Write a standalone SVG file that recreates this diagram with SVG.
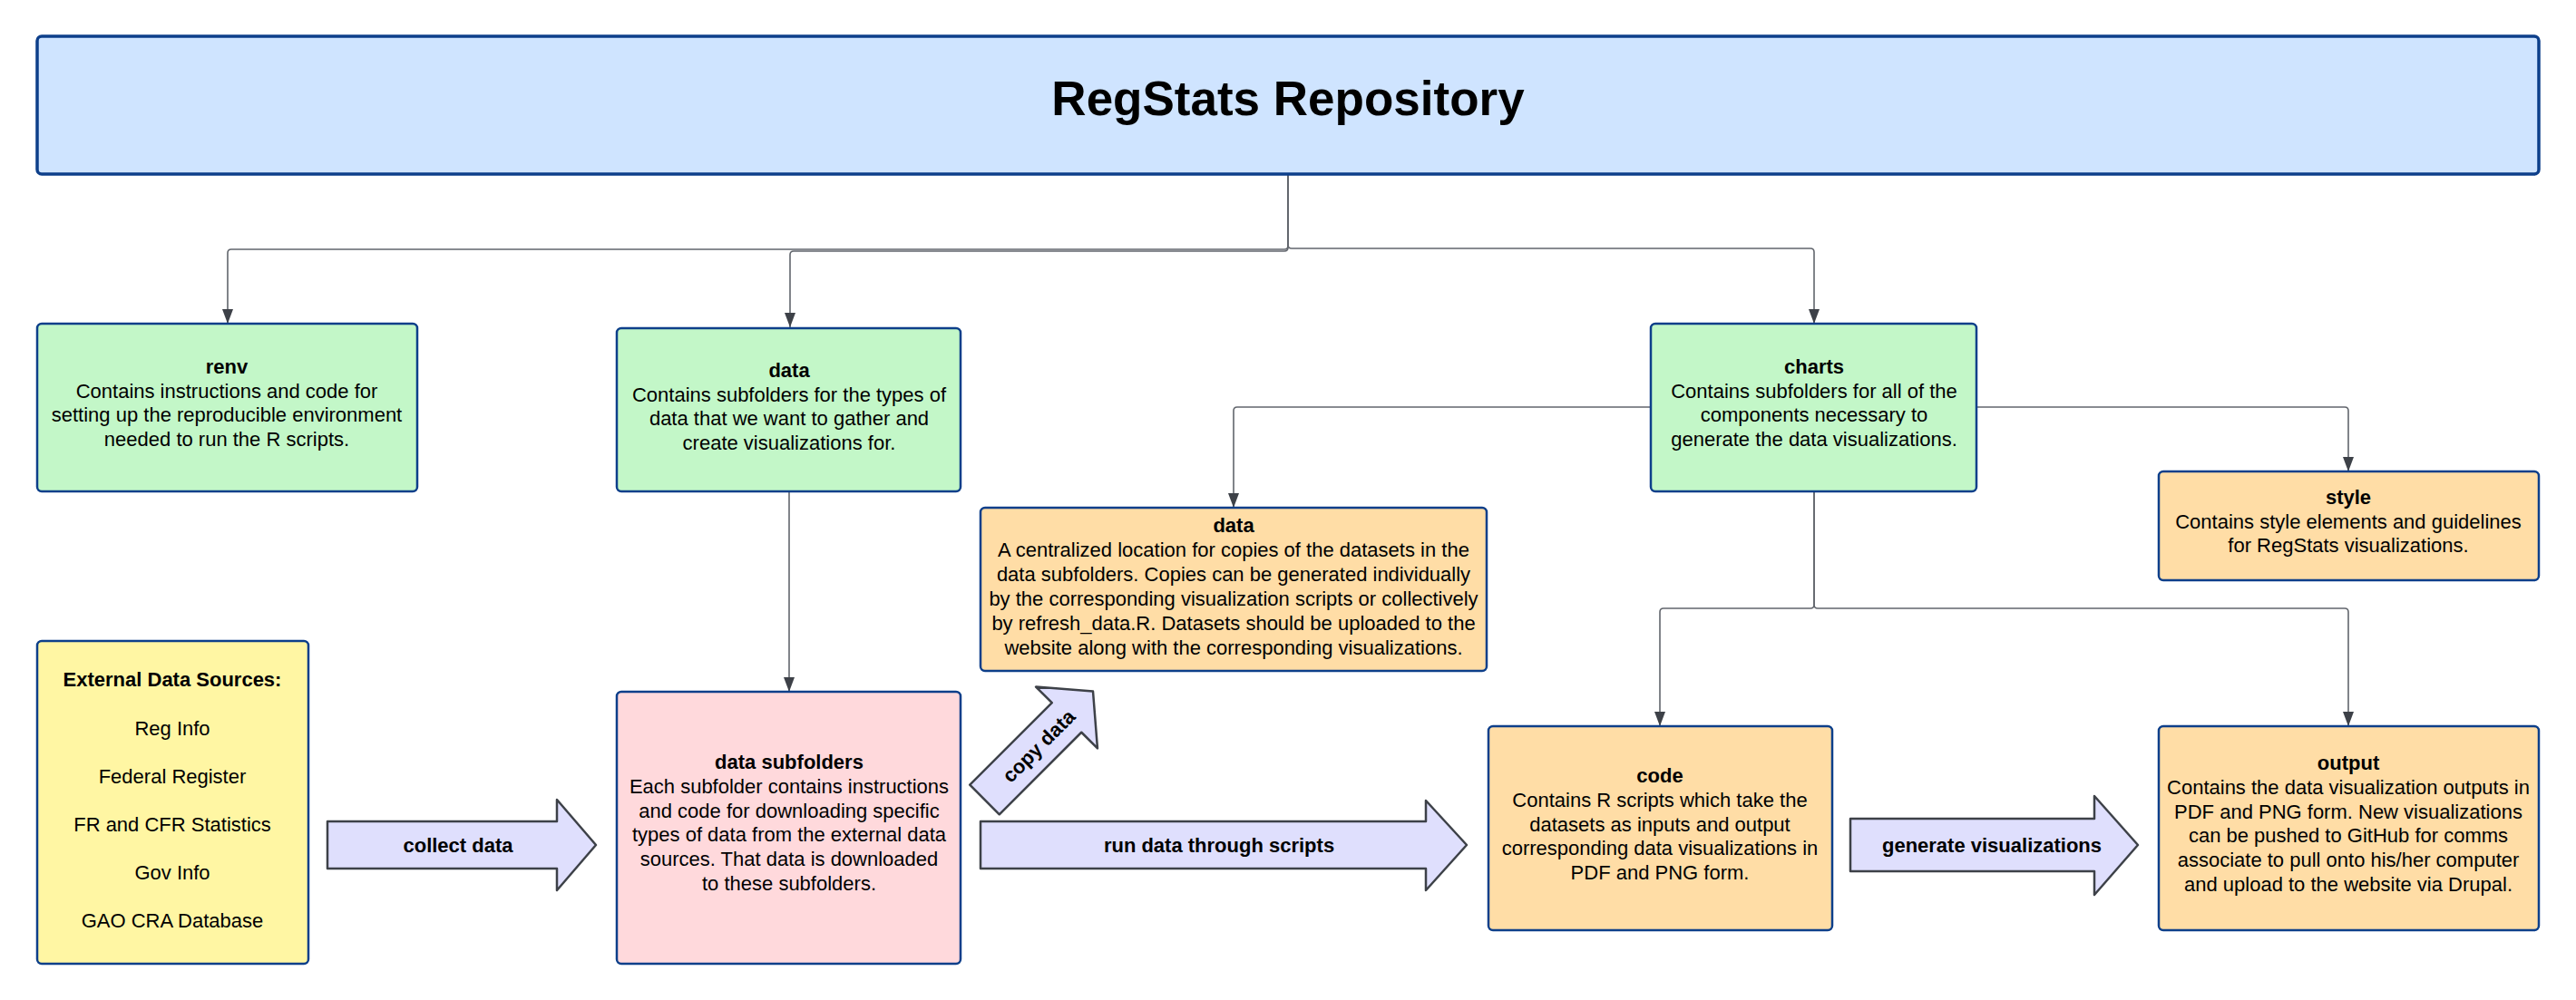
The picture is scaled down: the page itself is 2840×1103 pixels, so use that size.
<svg xmlns="http://www.w3.org/2000/svg" width="2840" height="1103" viewBox="0 0 2840 1103">
<style>
.box{stroke:#0d3f8a;stroke-width:2.5}
.title{fill:#cfe4ff;stroke:#0d3f8a;stroke-width:3.5}
.green{fill:#c3f7c8}
.orange{fill:#ffdda6}
.pink{fill:#ffd9dc}
.yellow{fill:#fff6a3}
.arrow{fill:#dfdffd;stroke:#3d4148;stroke-width:2.5;stroke-linejoin:round}
.conn{fill:none;stroke:#62666d;stroke-width:1.6}
text{font-family:"Liberation Sans",Arial,sans-serif;font-size:22px;fill:#000;text-anchor:middle}
.b{font-weight:bold}
</style>
<defs>
<marker id="ah" markerUnits="userSpaceOnUse" markerWidth="16" markerHeight="12" refX="16" refY="6" orient="auto">
<path d="M0,0 L16,6 L0,12 z" fill="#3d4148"/>
</marker>
</defs>
<rect width="2840" height="1103" fill="#ffffff"/>

<g id="connectors">
<path class="conn" d="M1420,192 V271 Q1420,275 1416,275 H255 Q251,275 251,279 V357" marker-end="url(#ah)"/>
<path class="conn" d="M1420,192 V273 Q1420,277 1416,277 H875 Q871,277 871,281 V361" marker-end="url(#ah)"/>
<path class="conn" d="M1420,192 V270 Q1420,274 1424,274 H1996 Q2000,274 2000,278 V357" marker-end="url(#ah)"/>
<path class="conn" d="M1820,449 H1364 Q1360,449 1360,453 V560" marker-end="url(#ah)"/>
<path class="conn" d="M2179,449 H2585 Q2589,449 2589,453 V520" marker-end="url(#ah)"/>
<path class="conn" d="M2000,542 V667 Q2000,671 1996,671 H1834 Q1830,671 1830,675 V801" marker-end="url(#ah)"/>
<path class="conn" d="M2000,542 V667 Q2000,671 2004,671 H2585 Q2589,671 2589,675 V801" marker-end="url(#ah)"/>
<path class="conn" d="M870,542 V763" marker-end="url(#ah)"/>
</g>

<g id="title">
<rect class="title" x="41" y="40" width="2758" height="152" rx="5"/>
<text x="1420" y="127" class="b" style="font-size:53px">RegStats Repository</text>
</g>

<g id="renv">
<rect class="box green" x="41" y="357" width="419" height="185" rx="5"/>
<text x="250" y="412"><tspan class="b">renv</tspan><tspan x="250" dy="26.7">Contains instructions and code for</tspan><tspan x="250" dy="26.7">setting up the reproducible environment</tspan><tspan x="250" dy="26.7">needed to run the R scripts.</tspan></text>
</g>

<g id="data">
<rect class="box green" x="680" y="362" width="379" height="180" rx="5"/>
<text x="870" y="416"><tspan class="b">data</tspan><tspan x="870" dy="26.7">Contains subfolders for the types of</tspan><tspan x="870" dy="26.7">data that we want to gather and</tspan><tspan x="870" dy="26.7">create visualizations for.</tspan></text>
</g>

<g id="charts">
<rect class="box green" x="1820" y="357" width="359" height="185" rx="5"/>
<text x="2000" y="412"><tspan class="b">charts</tspan><tspan x="2000" dy="26.7">Contains subfolders for all of the</tspan><tspan x="2000" dy="26.7">components necessary to</tspan><tspan x="2000" dy="26.7">generate the data visualizations.</tspan></text>
</g>

<g id="style">
<rect class="box orange" x="2380" y="520" width="419" height="120" rx="5"/>
<text x="2589" y="556"><tspan class="b">style</tspan><tspan x="2589" dy="26.7">Contains style elements and guidelines</tspan><tspan x="2589" dy="26.7">for RegStats visualizations.</tspan></text>
</g>

<g id="data-copies">
<rect class="box orange" x="1081" y="560" width="558" height="180" rx="5"/>
<text x="1360" y="587"><tspan class="b">data</tspan><tspan x="1360" dy="26.9">A centralized location for copies of the datasets in the</tspan><tspan x="1360" dy="26.9">data subfolders. Copies can be generated individually</tspan><tspan x="1360" dy="26.9">by the corresponding visualization scripts or collectively</tspan><tspan x="1360" dy="26.9">by refresh_data.R. Datasets should be uploaded to the</tspan><tspan x="1360" dy="26.9">website along with the corresponding visualizations.</tspan></text>
</g>

<g id="external-sources">
<rect class="box yellow" x="41" y="707" width="299" height="356" rx="5"/>
<text x="190" y="757" class="b">External Data Sources:</text>
<text x="190" y="811">Reg Info</text>
<text x="190" y="864">Federal Register</text>
<text x="190" y="917">FR and CFR Statistics</text>
<text x="190" y="970">Gov Info</text>
<text x="190" y="1023">GAO CRA Database</text>
</g>

<g id="data-subfolders">
<rect class="box pink" x="680" y="763" width="379" height="300" rx="5"/>
<text x="870" y="848"><tspan class="b">data subfolders</tspan><tspan x="870" dy="26.8">Each subfolder contains instructions</tspan><tspan x="870" dy="26.8">and code for downloading specific</tspan><tspan x="870" dy="26.8">types of data from the external data</tspan><tspan x="870" dy="26.8">sources. That data is downloaded</tspan><tspan x="870" dy="26.8">to these subfolders.</tspan></text>
</g>

<g id="code">
<rect class="box orange" x="1641" y="801" width="379" height="225" rx="5"/>
<text x="1830" y="863"><tspan class="b">code</tspan><tspan x="1830" dy="26.8">Contains R scripts which take the</tspan><tspan x="1830" dy="26.8">datasets as inputs and output</tspan><tspan x="1830" dy="26.8">corresponding data visualizations in</tspan><tspan x="1830" dy="26.8">PDF and PNG form.</tspan></text>
</g>

<g id="output">
<rect class="box orange" x="2380" y="801" width="419" height="225" rx="5"/>
<text x="2589" y="849"><tspan class="b">output</tspan><tspan x="2589" dy="26.8">Contains the data visualization outputs in</tspan><tspan x="2589" dy="26.8">PDF and PNG form. New visualizations</tspan><tspan x="2589" dy="26.8">can be pushed to GitHub for comms</tspan><tspan x="2589" dy="26.8">associate to pull onto his/her computer</tspan><tspan x="2589" dy="26.8">and upload to the website via Drupal.</tspan></text>
</g>

<g id="collect-data">
<polygon class="arrow" points="361,906 614,906 614,882 657,932 614,982 614,958 361,958"/>
<text x="505" y="940" class="b">collect data</text>
</g>

<g id="run-data">
<polygon class="arrow" points="1081,906 1572,906 1572,883 1617,932 1572,982 1572,958 1081,958"/>
<text x="1344" y="940" class="b">run data through scripts</text>
</g>

<g id="generate-visualizations">
<polygon class="arrow" points="2040,903 2309,903 2309,878 2357,932 2309,987 2309,961 2040,961"/>
<text x="2196" y="940" class="b">generate visualizations</text>
</g>

<g id="copy-data" transform="translate(1085.5,882) rotate(-45)">
<polygon class="arrow" points="0,-23 128,-23 128,-48 169,0 128,48 128,23 0,23"/>
<text x="84" y="8" class="b">copy data</text>
</g>
</svg>
